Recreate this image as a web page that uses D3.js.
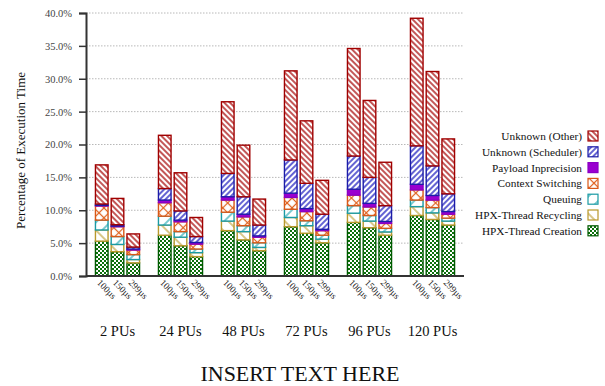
<!DOCTYPE html>
<html>
<head>
<meta charset="utf-8">
<script src="https://cdn.jsdelivr.net/npm/d3@7"></script>
<style>
  html, body { margin: 0; padding: 0; background: #fff; }
  svg { display: block; font-family: "Liberation Serif", "Times New Roman", serif; }
</style>
</head>
<body>
<svg id="chart" width="605" height="386"></svg>
<script>
// Processor-unit groups and task-duration bars inside each group
const groups = ["2 PUs", "24 PUs", "48 PUs", "72 PUs", "96 PUs", "120 PUs"];
const intervals = ["100µs", "150µs", "299µs"];
const yTicks = [0, 5, 10, 15, 20, 25, 30, 35, 40];

// Percentage of execution time per component, ordered group by group (100µs, 150µs, 299µs)
const threadCreation     = [5.3, 3.7, 2.0,  6.2, 4.6, 2.95,  6.9, 5.5, 3.85,  7.5, 6.5, 5.05,  8.15, 7.35, 6.2,  9.2, 8.6, 7.75];
const threadRecycling    = [1.7, 1.1, 0.5,  1.55, 1.3, 0.6,  1.45, 1.25, 0.5,  1.4, 1.15, 0.55,  1.4, 1.0, 0.5,  1.35, 1.0, 0.6];
const queuing            = [1.5, 1.2, 0.75, 1.35, 0.85, 0.55, 1.35, 0.9, 0.7,  1.25, 0.75, 0.6,  1.15, 0.85, 0.55, 1.0, 0.8, 0.45];
const contextSwitching   = [2.15, 1.5, 0.7, 2.05, 1.5, 0.75, 1.85, 1.35, 0.85, 1.8, 1.4, 0.7,  1.6, 1.3, 0.75,  1.55, 1.15, 0.6];
const payloadImprecision = [0.1, 0.1, 0.15, 0.4, 0.25, 0.25, 0.5, 0.4, 0.2,   0.65, 0.45, 0.2,  0.9, 0.55, 0.3,  0.85, 0.7, 0.4];
const unknownScheduler   = [0.2, 0.2, 0.3,  1.75, 1.4, 0.9,  3.55, 2.65, 1.65, 5.05, 3.85, 2.3,  5.05, 3.95, 2.4,  5.85, 4.5, 2.7];
const unknownOther       = [5.95, 4.0, 2.0, 8.1, 5.8, 2.9,   10.9, 7.85, 3.95, 13.55, 9.5, 5.15, 16.35, 11.7, 6.6, 19.4, 14.35, 8.35];

const seriesNames = ["HPX-Thread Creation", "HPX-Thread Recycling", "Queuing", "Context Switching",
                     "Payload Inprecision", "Unknown (Scheduler)", "Unknown (Other)"];
const seriesValues = [threadCreation, threadRecycling, queuing, contextSwitching,
                      payloadImprecision, unknownScheduler, unknownOther];

// Fill style for each component: pattern kind, ink colour, border colour
const styles = [
  { id: "p-create",  kind: "check", color: "#0b700b", border: "#005a00" },
  { id: "p-recycle", kind: "back",  color: "#bfa23a", border: "#b8982c", gap: 10, w: 1.2 },
  { id: "p-queue",   kind: "fwd",   color: "#22a6b0", border: "#1a9aa4", gap: 10, w: 1.2 },
  { id: "p-context", kind: "cross", color: "#e0601c", border: "#d85818", gap: 7,  w: 1.2 },
  { id: "p-payload", kind: "solid", color: "#9a00d0", border: "#8a00c4" },
  { id: "p-sched",   kind: "fwd",   color: "#2222c0", border: "#1c1ca8", gap: 4,  w: 1.4 },
  { id: "p-other",   kind: "back",  color: "#aa1010", border: "#a00000", gap: 4,  w: 1.4 }
];

const svg = d3.select("#chart");
const defs = svg.append("defs");

styles.forEach(s => {
  if (s.kind === "solid") return;
  if (s.kind === "check") {
    const p = defs.append("pattern").attr("id", s.id).attr("patternUnits", "userSpaceOnUse")
      .attr("width", 4).attr("height", 4);
    p.append("rect").attr("width", 4).attr("height", 4).attr("fill", "#fff");
    p.append("rect").attr("width", 2).attr("height", 2).attr("fill", s.color);
    p.append("rect").attr("x", 2).attr("y", 2).attr("width", 2).attr("height", 2).attr("fill", s.color);
    return;
  }
  const g = s.gap;
  const rot = s.kind === "back" ? -45 : 45;
  const p = defs.append("pattern").attr("id", s.id).attr("patternUnits", "userSpaceOnUse")
    .attr("width", g).attr("height", g).attr("patternTransform", `rotate(${rot})`);
  p.append("rect").attr("width", g).attr("height", g).attr("fill", "#fff");
  p.append("line").attr("x1", g / 2).attr("y1", 0).attr("x2", g / 2).attr("y2", g)
    .attr("stroke", s.color).attr("stroke-width", s.w);
  if (s.kind === "cross") {
    p.append("line").attr("x1", 0).attr("y1", g / 2).attr("x2", g).attr("y2", g / 2)
      .attr("stroke", s.color).attr("stroke-width", s.w);
  }
});
const fillOf = s => s.kind === "solid" ? s.color : `url(#${s.id})`;

// Scales
const plotLeft = 86, plotRight = 464, plotTop = 13, plotBottom = 276;
const x0 = d3.scaleBand().domain(groups).range([plotLeft, plotRight]).paddingInner(0.3).paddingOuter(0.15);
const x1 = d3.scaleBand().domain(intervals).range([0, x0.bandwidth()]).paddingInner(0.2);
const y = d3.scaleLinear().domain([0, 40]).range([plotBottom, plotTop]);

// Rows for stacking
const rows = [];
groups.forEach((grp, gi) => intervals.forEach((iv, ii) => {
  const row = { group: grp, interval: iv };
  seriesNames.forEach((name, si) => { row[name] = seriesValues[si][gi * 3 + ii]; });
  rows.push(row);
}));
const stacked = d3.stack().keys(seriesNames)(rows);

// Gridlines
svg.append("g").selectAll("line").data(yTicks.filter(t => t > 0)).join("line")
  .attr("x1", plotLeft).attr("x2", plotRight)
  .attr("y1", d => y(d)).attr("y2", d => y(d))
  .attr("stroke", "#b8b8b8").attr("stroke-width", 1).attr("stroke-dasharray", "1.5,1.5");

// Bars
stacked.forEach((layer, si) => {
  const s = styles[si];
  svg.append("g").selectAll("rect").data(layer).join("rect")
    .attr("x", d => x0(d.data.group) + x1(d.data.interval))
    .attr("width", x1.bandwidth())
    .attr("y", d => y(d[1]))
    .attr("height", d => Math.max(0, y(d[0]) - y(d[1])))
    .attr("fill", fillOf(s))
    .attr("stroke", s.border)
    .attr("stroke-width", 1.4);
});

// Y axis
const yAxis = d3.axisLeft(y).tickValues(yTicks).tickFormat(d => d.toFixed(1) + "%").tickSize(7).tickPadding(7);
const ya = svg.append("g").attr("transform", `translate(${plotLeft},0)`).call(yAxis);
ya.attr("font-family", null);
ya.select(".domain").attr("stroke", "#333").attr("stroke-width", 2);
ya.selectAll(".tick line").attr("stroke", "#333").attr("stroke-width", 1.5);
ya.selectAll(".tick text").attr("font-size", 10.5).attr("fill", "#444");

// X axis baseline
svg.append("line").attr("x1", plotLeft).attr("x2", plotRight)
  .attr("y1", plotBottom).attr("y2", plotBottom).attr("stroke", "#333").attr("stroke-width", 2);

// Interval labels under each bar
svg.append("g").selectAll("text").data(rows).join("text")
  .attr("transform", d => `translate(${x0(d.group) + x1(d.interval) + x1.bandwidth() / 2 - 3},${plotBottom + 5}) rotate(45)`)
  .attr("dy", "0.35em")
  .attr("font-size", 9.3).attr("fill", "#222")
  .text(d => d.interval);

// Group labels
svg.append("g").selectAll("text").data(groups).join("text")
  .attr("x", d => x0(d) + x0.bandwidth() / 2).attr("y", 336)
  .attr("text-anchor", "middle").attr("font-size", 14.5).attr("fill", "#111")
  .text(d => d);

// Axis title
svg.append("text")
  .attr("transform", `translate(25,${(plotTop + plotBottom) / 2 + 6}) rotate(-90)`)
  .attr("text-anchor", "middle").attr("font-size", 13).attr("fill", "#111")
  .text("Percentage of Execution Time");

// Legend (top row is the top of the stack)
const legend = svg.append("g");
const legendOrder = d3.range(seriesNames.length).reverse();
legendOrder.forEach((si, k) => {
  const cy = 136 + k * 15.8;
  legend.append("text").attr("x", 582).attr("y", cy).attr("dy", "0.35em")
    .attr("text-anchor", "end").attr("font-size", 11.3).attr("fill", "#111")
    .text(seriesNames[si]);
  legend.append("rect").attr("x", 588).attr("y", cy - 5).attr("width", 10).attr("height", 10)
    .attr("fill", fillOf(styles[si])).attr("stroke", styles[si].border).attr("stroke-width", 1.2);
});

// Caption
svg.append("text").attr("x", 300).attr("y", 381).attr("text-anchor", "middle")
  .attr("font-size", 22).attr("fill", "#111").text("INSERT TEXT HERE");
</script>
</body>
</html>
